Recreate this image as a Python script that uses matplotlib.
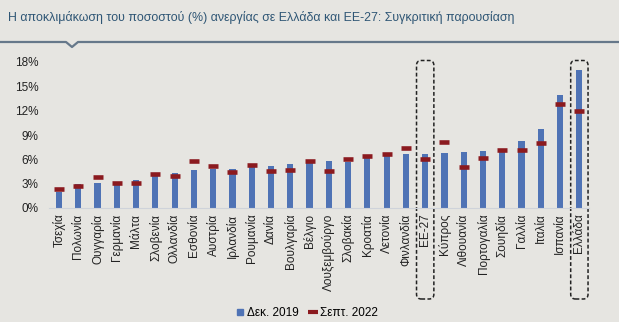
import matplotlib
matplotlib.use("Agg")
import matplotlib.pyplot as plt
import matplotlib.transforms as mtransforms
from matplotlib.patches import FancyBboxPatch
from matplotlib.lines import Line2D
import numpy as np

plt.rcParams['font.family'] = ['Liberation Sans', 'DejaVu Sans']

countries = ["Τσεχία", "Πολωνία", "Ουγγαρία", "Γερμανία", "Μάλτα", "Σλοβενία", "Ολλανδία",
             "Εσθονία", "Αυστρία", "Ιρλανδία", "Ρουμανία", "Δανία", "Βουλγαρία", "Βέλγιο",
             "Λουξεμβούργο", "Σλοβακία", "Κροατία", "Λετονία", "Φινλανδία", "ΕΕ-27", "Κύπρος",
             "Λιθουανία", "Πορτογαλία", "Σουηδία", "Γαλλία", "Ιταλία", "Ισπανία", "Ελλάδα"]
dec2019 = [2.0, 3.0, 3.1, 2.9, 3.5, 4.2, 4.3, 4.7, 4.8, 4.8, 5.2, 5.2, 5.4, 5.5,
           5.8, 5.7, 6.2, 6.5, 6.6, 6.7, 6.8, 6.9, 7.0, 7.0, 8.3, 9.7, 13.9, 17.0]
sep2022 = [2.3, 2.7, 3.8, 3.1, 3.1, 4.2, 3.9, 5.8, 5.2, 4.5, 5.3, 4.6, 4.7, 5.8,
           4.6, 6.0, 6.4, 6.7, 7.4, 6.1, 8.1, 5.1, 6.2, 7.1, 7.2, 8.0, 12.8, 11.9]
highlight = ["ΕΕ-27", "Ελλάδα"]
yticks = [0, 3, 6, 9, 12, 15, 18]
title = "Η αποκλιμάκωση του ποσοστού (%) ανεργίας σε Ελλάδα και ΕΕ-27: Συγκριτική παρουσίαση"

BG = "#e6e5e1"
BLUE = "#4f73b5"
RED = "#8b1a1f"
W, H = 619, 322

fig = plt.figure(figsize=(W / 100, H / 100), dpi=100, facecolor=BG)
ax = fig.add_axes([49.4 / W, 1 - 208 / H, (589 - 49.4) / W, (208 - 62) / H])
ax.set_facecolor(BG)

x = np.arange(len(countries))
ax.bar(x, dec2019, width=0.32, color=BLUE, zorder=2)
ax.plot(x, sep2022, linestyle='none', marker='_', markersize=7.5, markeredgewidth=3.3,
        color=RED, zorder=3)

ax.set_xlim(-0.5, len(countries) - 0.5)
ax.set_ylim(0, 18)
ax.set_yticks(yticks)
ax.set_yticklabels([f"{v}%" for v in yticks], fontsize=8.5, color="#222222")
ax.set_xticks(x)
ax.set_xticklabels(countries, rotation=90, fontsize=8.5, color="#222222")
ax.tick_params(axis='both', length=0)
ax.tick_params(axis='y', pad=8)
ax.tick_params(axis='x', pad=4)
for s in ['top', 'right', 'left']:
    ax.spines[s].set_visible(False)
ax.spines['bottom'].set_color("#cfd3da")
ax.spines['bottom'].set_linewidth(0.8)

# dashed highlight boxes
trans = mtransforms.blended_transform_factory(ax.transData, ax.transAxes)
for name in highlight:
    i = countries.index(name)
    y0 = -(299 - 208) / (208 - 62)
    y1 = 1 + (62 - 60.5) / (208 - 62)
    box = FancyBboxPatch((i - 0.45, y0), 0.9, y1 - y0,
                         boxstyle="round,pad=0,rounding_size=0.25",
                         transform=trans, fill=False, edgecolor="#222222",
                         linestyle=(0, (2.5, 1.5)), linewidth=1.1, clip_on=False,
                         mutation_aspect=(1 / 146) / (1 / 19.27))
    ax.add_patch(box)

# title and separator line
fig.text(8 / W, 1 - 18 / H, title, fontsize=8.95, color="#2f5675", va='center', ha='left')
px = [0, 66, 72, 78, W]
py = [42, 42, 47, 42, 42]
fig.add_artist(Line2D([p / W for p in px], [1 - p / H for p in py],
                      color="#66788a", linewidth=1.6, transform=fig.transFigure))

# legend
handles = [Line2D([], [], linestyle='none', marker='s', markersize=5, color=BLUE),
           Line2D([], [], linestyle='none', marker='_', markersize=7, markeredgewidth=3, color=RED)]
fig.legend(handles, ["Δεκ. 2019", "Σεπτ. 2022"], loc='center', ncol=2,
           bbox_to_anchor=(307 / W, 1 - 313 / H), frameon=False, fontsize=8.5,
           handlelength=0.7, handletextpad=0.2, columnspacing=0.9)

fig.savefig("out.png", dpi=100, facecolor=BG)
